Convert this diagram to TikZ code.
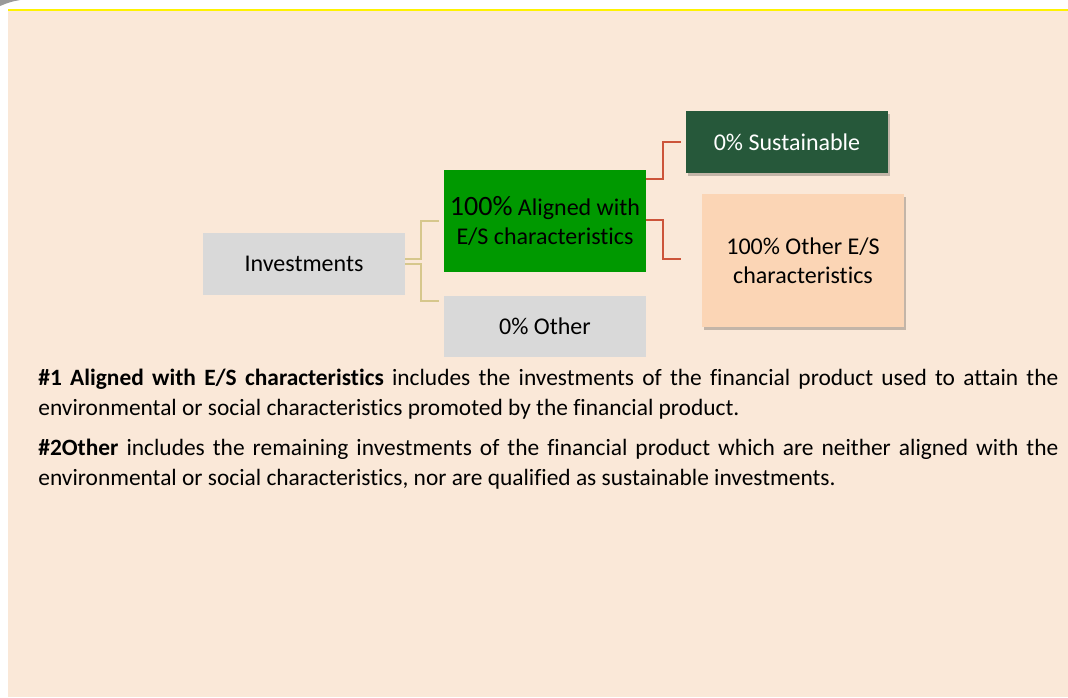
\documentclass[tikz,border=0pt]{standalone}
\usepackage{fontspec}
\setmainfont{Carlito}[RawFeature=-liga]
\usetikzlibrary{positioning, calc, shadows}
\definecolor{pagebg}{RGB}{250,232,216}
\definecolor{boxgray}{RGB}{217,217,217}
\definecolor{esgreen}{RGB}{0,153,0}
\definecolor{sustgreen}{RGB}{38,88,58}
\definecolor{peach}{RGB}{251,213,181}
\definecolor{linkyellow}{RGB}{214,199,140}
\definecolor{linkred}{RGB}{204,84,58}
\newcommand\nohyph{\hyphenpenalty=10000\relax\exhyphenpenalty=10000\relax}
\tikzset{
    x=0.5pt, y=-0.5pt,
    every node/.style={font=\fontsize{12}{14.5}\selectfont},
    catbox/.style={minimum width=101pt, inner sep=0pt, align=center},
    softshadow/.style={drop shadow={shadow xshift=1pt, shadow yshift=-1.5pt, fill=black, opacity=.22}},
    ylink/.style={draw=linkyellow, line width=1pt},
    rlink/.style={draw=linkred, line width=1pt},
    notetext/.style={anchor=north west, inner sep=0pt, text width=510pt, align=justify,
        font=\fontsize{11.7}{14.75}\selectfont},
}

\begin{document}
\begin{tikzpicture}
    \useasboundingbox (0,0) rectangle (1068,697);
    % page
    \fill[pagebg] (8,11) rectangle (1068,697);
    \draw[yellow, line width=1pt] (8,10) -- (1068,10);
    \fill[gray!80] (0,0) -- (20,0) .. controls (10,2) .. (0,6) -- cycle;

    % boxes
    \node[catbox, fill=boxgray, minimum height=31pt] (inv) at (304,264) {Investments};
    \node[catbox, fill=esgreen, minimum height=51pt] (aligned) at (545,221)
        {{\fontsize{14}{14}\selectfont 100\%} Aligned with\\E/S characteristics};
    \node[catbox, fill=boxgray, minimum height=30.5pt] (other) at (545,326.5) {0\% Other};
    \node[catbox, fill=sustgreen, text=white, minimum height=31pt, softshadow] (sust) at (787,142) {0\% Sustainable};
    \node[catbox, fill=peach, minimum height=66.5pt, softshadow] (othES) at (803,260.5) {100\% Other E/S\\characteristics};

    % links
    \draw[ylink] ($(inv.east)+(0,-5)$) -- ++(16,0) |- ($(aligned.west)+(-5,0)$);
    \draw[ylink] (inv.east) -- ++(16,0) |- ($(other.north west)+(-5,5)$);
    \draw[rlink] ($(aligned.north east)+(0,9)$) -- ++(17,0) |- ($(sust.west)+(-5,0)$);
    \draw[rlink] ($(aligned.east)+(0,-1)$) -- ++(17,0) |- ($(othES.west)+(-21,-2)$);

    % notes
    \node[notetext] (note1) at (38,369)
        {\nohyph\textbf{\#1 Aligned with E/S characteristics} includes the investments of the financial product used to attain the environmental or social characteristics promoted by the financial product.\par};
    \node[notetext] (note2) at (38,439)
        {\nohyph\textbf{\#2Other} includes the remaining investments of the financial product which are neither aligned with the environmental or social characteristics, nor are qualified as sustainable investments.\par};
\end{tikzpicture}
\end{document}
